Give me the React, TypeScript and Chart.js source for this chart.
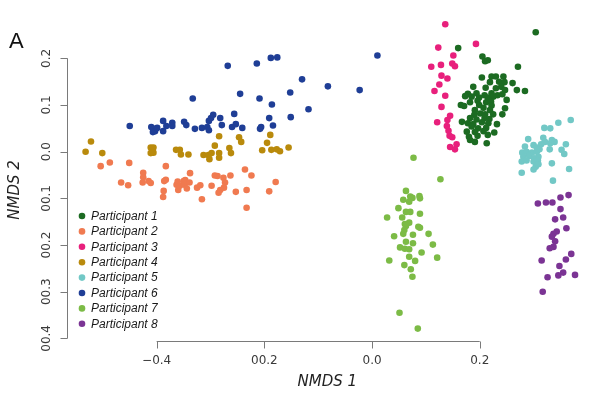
import React, { useEffect, useRef } from "react";
import { Chart, registerables } from "chart.js";

Chart.register(...registerables);

const seriesNames = ["Participant 1", "Participant 2", "Participant 3", "Participant 4", "Participant 5", "Participant 6", "Participant 7", "Participant 8"];
const seriesColors = ["#1c6b22", "#f07a50", "#e8207c", "#b98a0c", "#72c8c6", "#1f3e96", "#7cbb46", "#7b3494"];

const p1: number[][] = [
  [0.304, 0.256], [0.16, 0.222], [0.205, 0.204], [0.21, 0.194], [0.215, 0.196], [0.271, 0.182],
  [0.204, 0.159], [0.222, 0.161], [0.23, 0.161], [0.244, 0.161], [0.219, 0.149], [0.236, 0.15],
  [0.246, 0.149], [0.261, 0.147], [0.188, 0.139], [0.211, 0.137], [0.23, 0.136], [0.24, 0.139],
  [0.247, 0.132], [0.269, 0.132], [0.284, 0.13], [0.178, 0.124], [0.194, 0.125], [0.209, 0.121],
  [0.222, 0.125], [0.233, 0.121], [0.242, 0.123], [0.173, 0.119], [0.185, 0.118], [0.199, 0.116],
  [0.215, 0.116], [0.225, 0.118], [0.25, 0.111], [0.182, 0.106], [0.196, 0.109], [0.212, 0.106],
  [0.221, 0.107], [0.165, 0.1], [0.171, 0.098], [0.199, 0.1], [0.222, 0.099], [0.247, 0.093],
  [0.191, 0.089], [0.207, 0.094], [0.219, 0.089], [0.19, 0.079], [0.201, 0.082], [0.21, 0.08],
  [0.225, 0.08], [0.242, 0.08], [0.182, 0.072], [0.194, 0.069], [0.209, 0.072], [0.218, 0.07],
  [0.167, 0.064], [0.178, 0.061], [0.188, 0.059], [0.204, 0.063], [0.216, 0.061], [0.232, 0.059],
  [0.185, 0.054], [0.197, 0.05], [0.212, 0.051], [0.176, 0.043], [0.191, 0.042], [0.207, 0.044],
  [0.227, 0.041], [0.18, 0.032], [0.196, 0.034], [0.215, 0.036], [0.182, 0.025], [0.191, 0.021],
  [0.213, 0.018],
];

const p2: number[][] = [
  [-0.504, -0.031], [-0.487, -0.023], [-0.451, -0.024], [-0.466, -0.066], [-0.453, -0.072],
  [-0.425, -0.045], [-0.425, -0.055], [-0.426, -0.066], [-0.415, -0.063], [-0.411, -0.067],
  [-0.383, -0.031], [-0.383, -0.06], [-0.386, -0.063], [-0.387, -0.084], [-0.388, -0.097],
  [-0.363, -0.071], [-0.36, -0.082], [-0.361, -0.064], [-0.357, -0.073], [-0.35, -0.063],
  [-0.348, -0.071], [-0.347, -0.061], [-0.344, -0.079], [-0.339, -0.066], [-0.338, -0.046],
  [-0.325, -0.077], [-0.319, -0.072], [-0.316, -0.102], [-0.298, -0.073], [-0.292, -0.051],
  [-0.287, -0.052], [-0.282, -0.082], [-0.285, -0.088], [-0.276, -0.056], [-0.273, -0.066],
  [-0.275, -0.077], [-0.263, -0.051], [-0.253, -0.086], [-0.236, -0.038], [-0.224, -0.051],
  [-0.233, -0.082], [-0.233, -0.12], [-0.191, -0.085], [-0.179, -0.065],
];

const p3: number[][] = [
  [0.136, 0.273], [0.123, 0.223], [0.193, 0.231], [0.151, 0.206], [0.149, 0.189], [0.154, 0.183],
  [0.128, 0.186], [0.11, 0.182], [0.129, 0.163], [0.14, 0.157], [0.125, 0.144], [0.116, 0.13],
  [0.136, 0.12], [0.129, 0.096], [0.145, 0.077], [0.14, 0.068], [0.121, 0.063], [0.139, 0.055],
  [0.142, 0.045], [0.144, 0.034], [0.149, 0.031], [0.145, 0.01], [0.157, 0.016], [0.154, 0.005],
];

const p4: number[][] = [
  [-0.522, 0.022], [-0.532, 0.0], [-0.501, -0.003], [-0.411, 0.009], [-0.406, 0.009], [-0.411, -0.003],
  [-0.406, -0.002], [-0.364, 0.004], [-0.357, 0.004], [-0.355, -0.006], [-0.341, -0.006],
  [-0.313, -0.007], [-0.304, -0.007], [-0.302, -0.016], [-0.298, -0.003], [-0.292, 0.013],
  [-0.284, 0.033], [-0.284, -0.003], [-0.284, -0.013], [-0.265, 0.008], [-0.262, -0.003],
  [-0.247, 0.031], [-0.243, 0.021], [-0.204, 0.003], [-0.195, 0.019], [-0.189, 0.036],
  [-0.187, 0.004], [-0.177, 0.005], [-0.171, 0.001], [-0.155, 0.009],
];

const p5: number[][] = [
  [0.369, 0.068], [0.346, 0.062], [0.32, 0.051], [0.331, 0.05], [0.29, 0.027], [0.318, 0.03],
  [0.321, 0.021], [0.334, 0.025], [0.339, 0.021], [0.314, 0.016], [0.331, 0.018], [0.36, 0.016],
  [0.284, 0.011], [0.3, 0.014], [0.306, 0.009], [0.311, 0.005], [0.33, 0.005], [0.352, 0.004],
  [0.357, -0.005], [0.279, -0.002], [0.287, 0.0], [0.297, -0.002], [0.306, 0.0], [0.281, -0.011],
  [0.292, -0.009], [0.301, -0.014], [0.309, -0.011], [0.278, -0.021], [0.287, -0.019],
  [0.3, -0.021], [0.308, -0.019], [0.334, -0.025], [0.304, -0.032], [0.309, -0.027],
  [0.3, -0.038], [0.366, -0.037], [0.278, -0.045], [0.336, -0.062],
];

const p6: number[][] = [
  [-0.45, 0.055], [-0.41, 0.053], [-0.405, 0.049], [-0.403, 0.044], [-0.407, 0.042], [-0.399, 0.051],
  [-0.388, 0.066], [-0.388, 0.044], [-0.382, 0.055], [-0.371, 0.062], [-0.371, 0.055],
  [-0.349, 0.064], [-0.345, 0.057], [-0.329, 0.049], [-0.333, 0.114], [-0.316, 0.051],
  [-0.306, 0.053], [-0.303, 0.066], [-0.303, 0.046], [-0.299, 0.072], [-0.295, 0.079],
  [-0.282, 0.072], [-0.279, 0.057], [-0.268, 0.184], [-0.256, 0.081], [-0.26, 0.053],
  [-0.253, 0.059], [-0.241, 0.051], [-0.245, 0.124], [-0.214, 0.189], [-0.209, 0.114],
  [-0.206, 0.053], [-0.208, 0.049], [-0.191, 0.072], [-0.184, 0.056], [-0.186, 0.101],
  [-0.188, 0.201], [-0.176, 0.202], [-0.152, 0.127], [-0.151, 0.074], [-0.13, 0.155],
  [-0.118, 0.091], [-0.082, 0.14], [-0.023, 0.132], [0.01, 0.206],
];

const p7: number[][] = [
  [0.077, -0.013], [0.127, -0.059], [0.063, -0.084], [0.071, -0.096], [0.075, -0.099], [0.088, -0.095],
  [0.089, -0.1], [0.058, -0.103], [0.069, -0.107], [0.049, -0.121], [0.063, -0.129], [0.071, -0.129],
  [0.089, -0.133], [0.028, -0.141], [0.056, -0.141], [0.061, -0.155], [0.069, -0.152], [0.063, -0.159],
  [0.086, -0.161], [0.089, -0.163], [0.06, -0.168], [0.058, -0.176], [0.076, -0.178], [0.105, -0.176],
  [0.041, -0.181], [0.063, -0.193], [0.076, -0.196], [0.052, -0.205], [0.061, -0.208], [0.069, -0.209],
  [0.113, -0.199], [0.092, -0.216], [0.032, -0.233], [0.069, -0.225], [0.121, -0.227], [0.06, -0.243],
  [0.08, -0.234], [0.072, -0.252], [0.075, -0.268], [0.051, -0.345], [0.085, -0.379],
];

const p8: number[][] = [
  [0.308, -0.111], [0.323, -0.109], [0.335, -0.109], [0.35, -0.098], [0.365, -0.093], [0.35, -0.123],
  [0.34, -0.145], [0.355, -0.141], [0.361, -0.164], [0.343, -0.171], [0.337, -0.176], [0.334, -0.182],
  [0.34, -0.192], [0.337, -0.204], [0.33, -0.207], [0.315, -0.233], [0.37, -0.219], [0.36, -0.231],
  [0.348, -0.245], [0.355, -0.259], [0.346, -0.265], [0.377, -0.264], [0.326, -0.269], [0.317, -0.3],
];

const allSeries = [p1, p2, p3, p4, p5, p6, p7, p8];

const xTickValues = [-0.4, -0.2, 0.0, 0.2];
const xTickLabels = ["\u22120.4", "00.2", "0.0", "0.2"];
const yTickValues = [0.2, 0.1, 0.0, -0.1, -0.2, -0.3, -0.4];
const yTickLabels = ["0.2", "0.1", "0.0", "00.1", "00.2", "00.3", "00.4"];

const xTitle = "NMDS 1";
const yTitle = "NMDS 2";
const panelLabel = "A";

const axesPlugin = {
  id: "rAxes",
  afterDatasetsDraw(chart: any) {
    const ctx = chart.ctx as CanvasRenderingContext2D;
    const xs = chart.scales.x;
    const ys = chart.scales.y;
    const area = chart.chartArea;
    ctx.save();
    // x axis
    const axisColor = "#7a7a7a";
    const labelColor = "#3a3a3a";
    ctx.strokeStyle = axisColor;
    ctx.lineWidth = 1;
    const xb = Math.round(area.bottom) + 0.5;
    const x0 = xs.getPixelForValue(xTickValues[0]);
    const x1 = xs.getPixelForValue(xTickValues[xTickValues.length - 1]);
    ctx.beginPath();
    ctx.moveTo(x0, xb);
    ctx.lineTo(x1, xb);
    xTickValues.forEach((v) => {
      const px = Math.round(xs.getPixelForValue(v)) + 0.5;
      ctx.moveTo(px, xb);
      ctx.lineTo(px, xb + 7);
    });
    ctx.stroke();
    ctx.fillStyle = labelColor;
    ctx.font = "12px 'DejaVu Sans'";
    ctx.textAlign = "center";
    ctx.textBaseline = "middle";
    xTickValues.forEach((v, i) => {
      ctx.fillText(xTickLabels[i], xs.getPixelForValue(v), xb + 19);
    });
    // y axis
    const yl = Math.round(area.left) + 0.5;
    const y0 = ys.getPixelForValue(yTickValues[0]);
    const y1 = ys.getPixelForValue(yTickValues[yTickValues.length - 1]);
    ctx.beginPath();
    ctx.moveTo(yl, y0);
    ctx.lineTo(yl, y1);
    yTickValues.forEach((v) => {
      const py = Math.round(ys.getPixelForValue(v)) + 0.5;
      ctx.moveTo(yl, py);
      ctx.lineTo(yl - 7, py);
    });
    ctx.stroke();
    yTickValues.forEach((v, i) => {
      const py = ys.getPixelForValue(v);
      ctx.save();
      ctx.translate(yl - 21, py);
      ctx.rotate(-Math.PI / 2);
      ctx.fillText(yTickLabels[i], 0, 0);
      ctx.restore();
    });
    // titles
    ctx.fillStyle = "#222";
    ctx.font = "italic 15px 'DejaVu Sans'";
    ctx.fillText(xTitle, (area.left + area.right) / 2, xb + 41);
    ctx.save();
    ctx.translate(15, 190);
    ctx.rotate(-Math.PI / 2);
    ctx.fillText(yTitle, 0, 0);
    ctx.restore();
    ctx.font = "22px 'Liberation Sans'";
    ctx.textAlign = "left";
    ctx.fillStyle = "#111";
    ctx.fillText(panelLabel, 9, 42);
    // legend
    ctx.font = "italic 12px 'Liberation Sans'";
    ctx.textAlign = "left";
    chart.data.datasets.forEach((ds: any, i: number) => {
      const ly = 216 + i * 15.4;
      ctx.fillStyle = ds.backgroundColor;
      ctx.beginPath();
      ctx.arc(82, ly, 3.3, 0, Math.PI * 2);
      ctx.fill();
      ctx.fillStyle = "#1a1a1a";
      ctx.fillText(ds.label, 91, ly + 0.5);
    });
    ctx.restore();
  },
};

export default function App() {
  const canvasRef = useRef<HTMLCanvasElement | null>(null);
  useEffect(() => {
    if (!canvasRef.current) return;
    const chart = new Chart(canvasRef.current, {
      type: "scatter",
      data: {
        datasets: allSeries.map((pts, i) => ({
          label: seriesNames[i],
          data: pts.map((p) => ({ x: p[0], y: p[1] })),
          backgroundColor: seriesColors[i],
          borderWidth: 0,
          pointRadius: 3.3,
          pointHoverRadius: 3.3,
        })),
      },
      options: {
        responsive: false,
        animation: false,
        devicePixelRatio: 1,
        layout: { padding: { left: 66.7, right: 12, top: 15, bottom: 57 } },
        plugins: { legend: { display: false }, tooltip: { enabled: false } },
        scales: {
          x: { type: "linear", min: -0.5671, max: 0.4011, display: false },
          y: { type: "linear", min: -0.4056, max: 0.2929, display: false },
        },
      },
      plugins: [axesPlugin],
    });
    return () => chart.destroy();
  }, []);
  return (
    <div style={{ position: "absolute", left: 0, top: 0, width: 600, height: 398, background: "#fff" }}>
      <canvas ref={canvasRef} width={600} height={398} />
    </div>
  );
}
